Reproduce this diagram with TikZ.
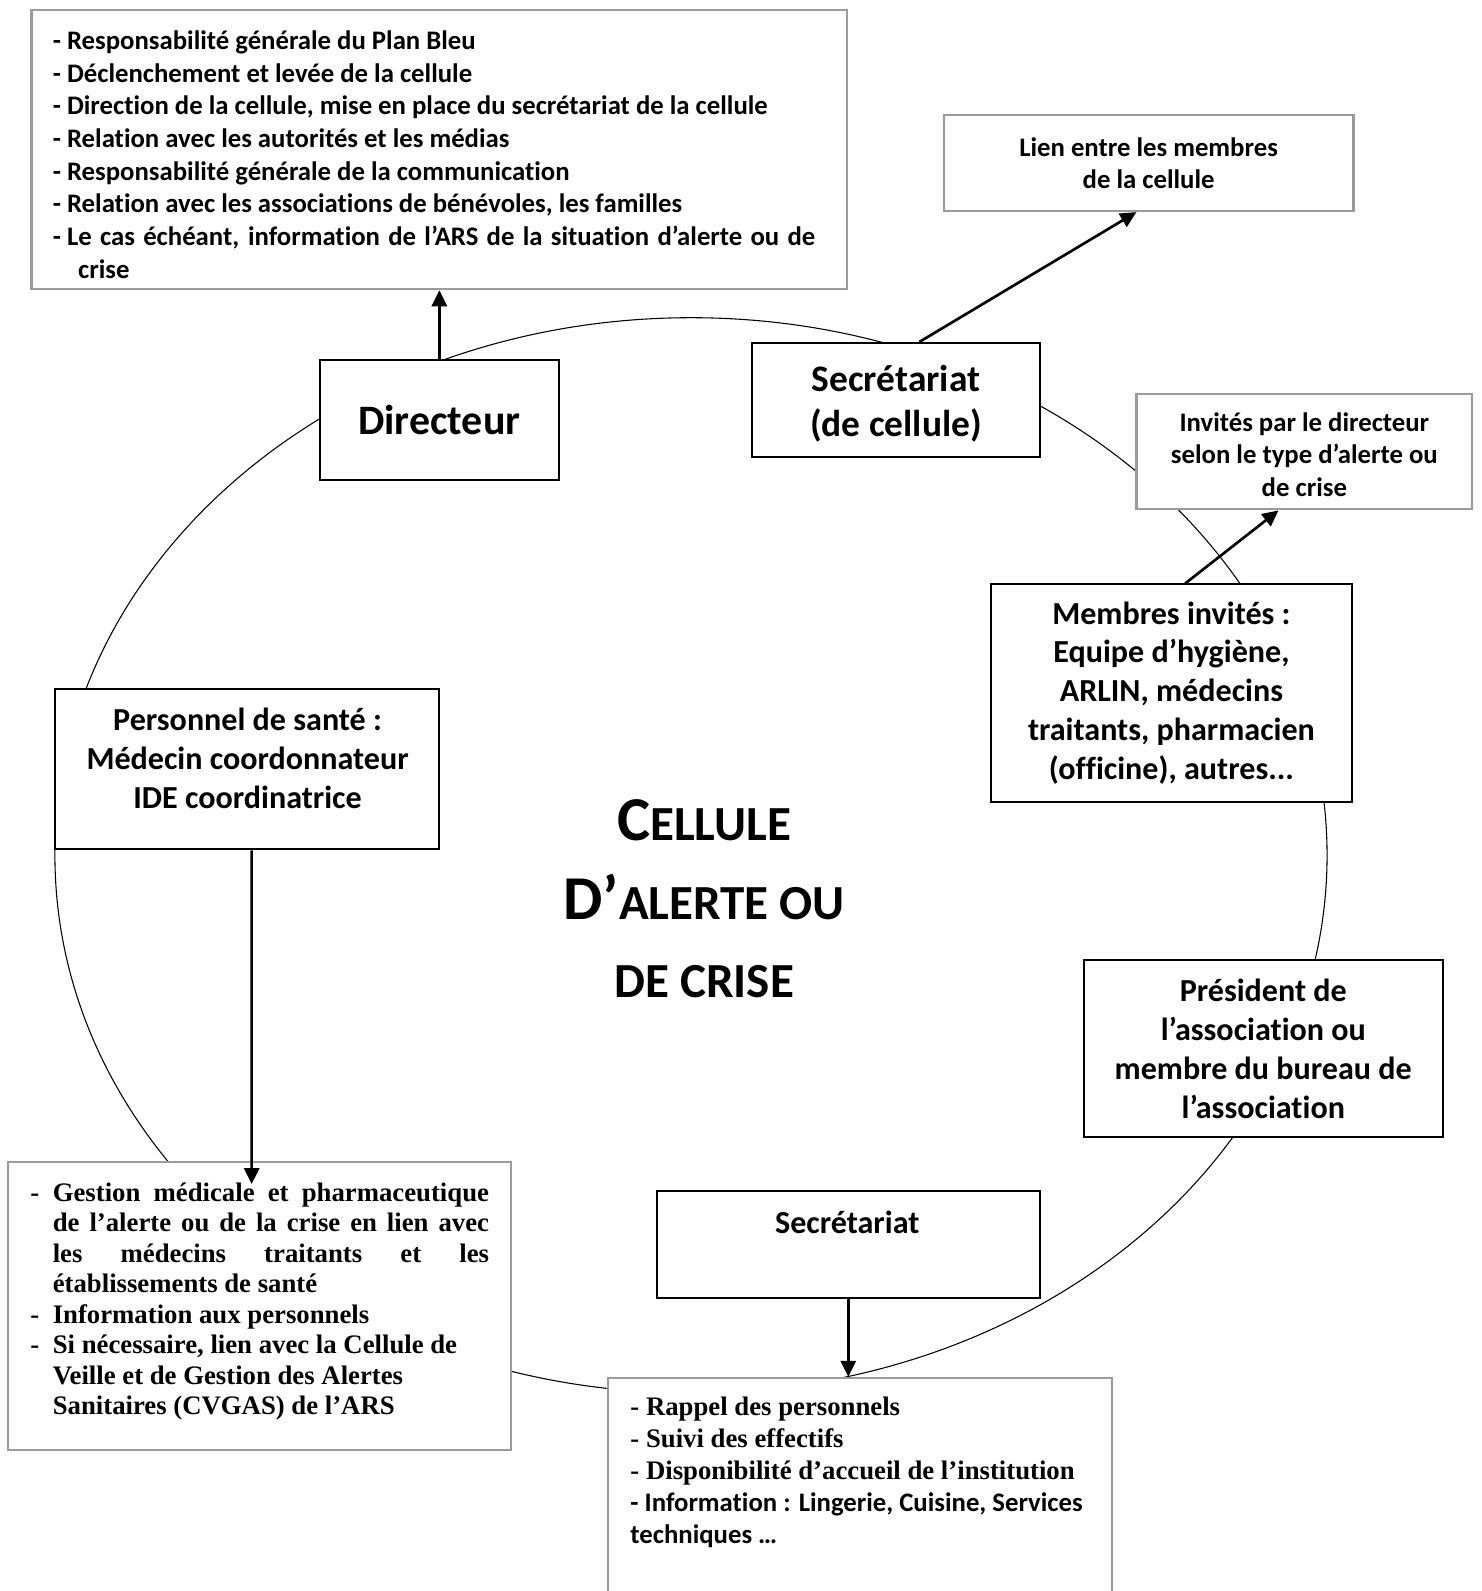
\documentclass[tikz,border=0pt]{standalone}
\usepackage{fontspec}
\setmainfont{Carlito}[Ligatures=NoCommon]
\newfontfamily\tnr{Liberation Serif}
\usetikzlibrary{arrows.meta}
\definecolor{boxgray}{RGB}{155,155,155}

\begin{document}
\begin{tikzpicture}[
    x=0.02cm, y=-0.02cm,
    >={Triangle[length=9pt, width=8.5pt]},
    gbox/.style={draw=boxgray, line width=1.2pt, fill=white, inner sep=0pt},
    bbox/.style={draw, line width=1.1pt, fill=white, inner sep=0pt},
    itemtxt/.style={font=\fontsize{15}{18}\selectfont\bfseries},
    roletxt/.style={font=\fontsize{18}{21.8}\selectfont\bfseries},
    link/.style={->, line width=1.5pt}
  ]
  \def\capbig{\fontsize{35}{44}\selectfont}
  \def\capsmall{\fontsize{27.5}{44}\selectfont}
  \useasboundingbox (0,0) rectangle (1460,1568);

  % Cellule
  \draw[line width=0.6pt] (681,843) ellipse (12.54cm and 10.6cm);
  \node[font=\bfseries\capsmall, align=flush center] (cell) at (694,886)
    {{\capbig C}ELLULE\\{\capbig D’}ALERTE OU\\DE CRISE};

  % Directeur
  \node[gbox, font=\fontsize{15}{18.3}\selectfont\bfseries, text width=15.24cm, minimum height=5.5cm, align=flush left, inner xsep=0.42cm] (resp) at (433,147.5)
    {\rule{0pt}{16pt}- Responsabilité générale du Plan Bleu\\
     - Déclenchement et levée de la cellule\\
     - Direction de la cellule, mise en place du secrétariat de la cellule\\
     - Relation avec les autorités et les médias\\
     - Responsabilité générale de la communication\\
     - Relation avec les associations de bénévoles, les familles\\
     - \makebox[14.75cm][s]{Le cas échéant, information de l’ARS de la situation d’alerte ou de}\\
     \hspace*{0.5cm}crise};
  \node[bbox, minimum width=4.72cm, minimum height=2.36cm, font=\fontsize{23.5}{28}\selectfont\bfseries] (dir) at (433,414) {Directeur};

  % Secretariat de cellule
  \node[bbox, minimum width=5.68cm, minimum height=2.24cm, align=flush center, font=\fontsize{21}{25}\selectfont\bfseries] (sec) at (883,394)
    {\rule{0pt}{19pt}Secrétariat\\(de cellule)};
  \node[gbox, itemtxt, minimum width=8.08cm, minimum height=1.9cm, align=flush center] (lien) at (1132,160.5)
    {Lien entre les membres\\de la cellule};

  % Membres invites
  \node[gbox, itemtxt, minimum width=6.62cm, minimum height=2.28cm, align=flush center] (inv) at (1285.5,445)
    {\rule{0pt}{14pt}Invités par le directeur\\selon le type d’alerte ou\\de crise};
  \node[bbox, roletxt, minimum width=7.1cm, minimum height=4.28cm, align=flush center] (memb) at (1154.5,683)
    {Membres invités :\\Equipe d’hygiène,\\ARLIN, médecins\\traitants, pharmacien\\(officine), autres...};

  % President
  \node[bbox, roletxt, minimum width=7.08cm, minimum height=3.5cm, align=flush center] (pres) at (1245,1033.5)
    {Président de\\l’association ou\\membre du bureau de\\l’association};

  % Personnel de sante
  \node[bbox, minimum width=7.58cm, minimum height=3.16cm] (pers) at (243.5,758) {};
  \node[roletxt, align=flush center] (perstxt) at (244,747.5)
    {Personnel de santé :\\Médecin coordonnateur\\IDE coordinatrice};
  \node[gbox, minimum width=9.92cm, minimum height=5.68cm] (gest) at (256,1287) {};
  \node[font=\tnr\fontsize{15}{17.1}\selectfont\bfseries, inner sep=0pt] (gesttxt) at (256,1283)
    {\begin{tabular}{@{}p{0.44cm}@{}p{8.6cm}@{}}
      - & \makebox[8.6cm][s]{Gestion médicale et pharmaceutique}\\
        & \makebox[8.6cm][s]{de l’alerte ou de la crise en lien avec}\\
        & \makebox[8.6cm][s]{les médecins traitants et les}\\
        & établissements de santé\\
      - & Information aux personnels\\
      - & Si nécessaire, lien avec la Cellule de\\
        & Veille et de Gestion des Alertes\\
        & Sanitaires (CVGAS) de l’ARS
    \end{tabular}};

  % Secretariat
  \node[bbox, minimum width=7.56cm, minimum height=2.1cm] (secb) at (836,1226.5) {};
  \node[roletxt] (secbtxt) at (835,1205) {Secrétariat};
  \node[gbox, minimum width=9.94cm, minimum height=4.44cm] (rap) at (847.5,1469) {};
  \node[itemtxt, align=flush left, anchor=west, inner sep=0pt] (raptxt) at (621,1451)
    {{\tnr - Rappel des personnels}\\
     {\tnr - Suivi des effectifs}\\
     {\tnr - Disponibilité d’accueil de l’institution}\\
     - Information : Lingerie, Cuisine, Services\\
     techniques …};

  % Liens
  \draw[link] (dir) -- (resp);
  \draw[link] ([xshift=0.46cm]sec.north) -- ([xshift=-0.24cm]lien.south);
  \draw[link] ([xshift=0.27cm]memb.north) -- ([xshift=-0.51cm]inv.south);
  \draw[link] ([xshift=0.09cm]pers.south) -- ([xshift=-0.16cm, yshift=-0.46cm]gest.north);
  \draw[link] (secb) -- (secb |- rap.north);
\end{tikzpicture}
\end{document}
